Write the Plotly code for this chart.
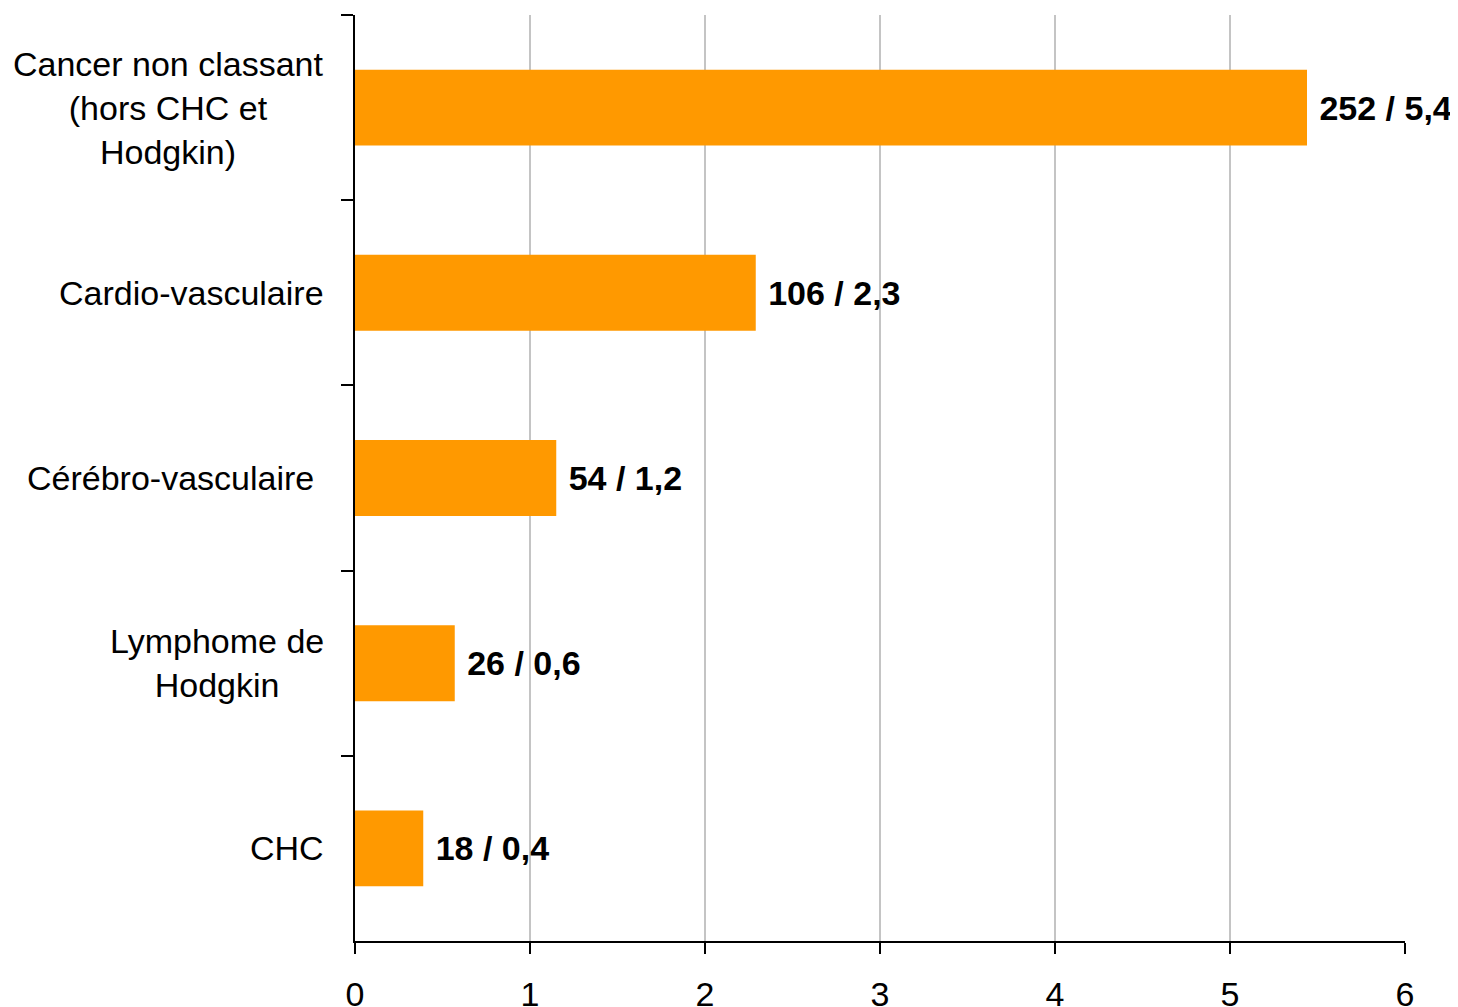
import plotly.graph_objects as go

# Données
categories = ["Cancer non classant<br>(hors CHC et<br>Hodgkin)", "Cardio-vasculaire",
              "Cérébro-vasculaire\u00a0", "Lymphome de<br>Hodgkin", "CHC"]
valeurs = [5.44, 2.29, 1.15, 0.57, 0.39]
etiquettes = ["252 / 5,4", "106 / 2,3", "54 / 1,2", "26 / 0,6", "18 / 0,4"]
ticks_x = [0, 1, 2, 3, 4, 5, 6]

police = "Arial, Liberation Sans, sans-serif"

trace = go.Bar(
    x=valeurs,
    y=categories,
    orientation="h",
    marker=dict(color="#FF9900", line=dict(width=0)),
    text=["\u00a0" + e for e in etiquettes],
    textposition="outside",
    textfont=dict(family=police, size=34, color="black", weight="bold"),
    cliponaxis=False,
    hoverinfo="skip",
)

fig = go.Figure(data=[trace])

# libellés de catégories centrés (style Excel)
for cat in categories:
    fig.add_annotation(
        x=0, xref="paper", y=cat, yref="y",
        text=cat, showarrow=False, xanchor="right", xshift=-29,
        align="center", font=dict(family=police, size=34, color="black"),
    )

fig.update_layout(
    width=1458, height=1007,
    margin=dict(l=347, r=61, t=7, b=74),
    plot_bgcolor="white", paper_bgcolor="white",
    bargap=0.59,
    showlegend=False,
    font=dict(family=police, size=34, color="black"),
)
fig.update_xaxes(
    range=[0, 6], tickvals=ticks_x, ticktext=[str(t) for t in ticks_x],
    showgrid=True, gridcolor="#C4C4C4", gridwidth=2,
    showline=True, linecolor="black", linewidth=2,
    ticks="outside", ticklen=11, tickwidth=2, tickcolor="black",
    ticklabelstandoff=11, automargin=False,
    zeroline=False, fixedrange=True,
)
fig.update_yaxes(
    categoryorder="array", categoryarray=categories, autorange="reversed",
    showticklabels=False, tickson="boundaries", automargin=False,
    showline=True, linecolor="black", linewidth=2,
    ticks="outside", ticklen=12, tickwidth=2, tickcolor="black",
    showgrid=False, zeroline=False,
)

fig.write_html("out.html")
